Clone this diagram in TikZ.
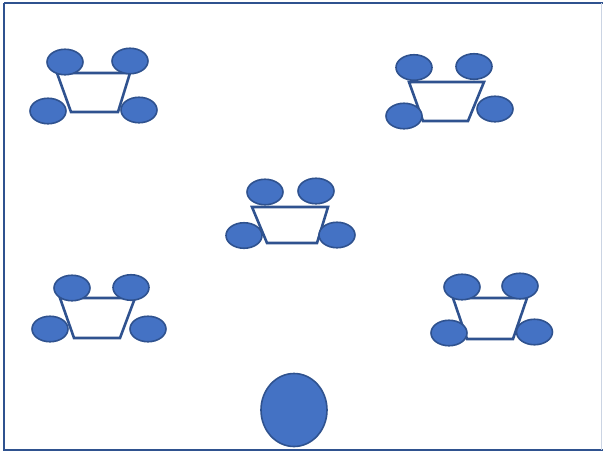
\documentclass[tikz,border=0pt]{standalone}
\usetikzlibrary{shapes.geometric}
\definecolor{seatblue}{HTML}{4472C4}
\definecolor{edgeblue}{HTML}{2F528F}

\begin{document}
\begin{tikzpicture}[x=1pt,y=-1pt,
  seat/.style={ellipse,draw=edgeblue,fill=seatblue,line width=1.6pt,
    minimum width=36pt,minimum height=25.5pt,inner sep=0pt},
  desk/.style={draw=edgeblue,line width=2.6pt}]
  \useasboundingbox (0,0) rectangle (603,453);
  \draw[edgeblue,line width=2.4pt] (4,3) -- (603,3);
  \draw[edgeblue,line width=2.4pt] (4,3) -- (4,450) -- (603,450);
  \draw[edgeblue!25,line width=1pt] (601,3) -- (601,450);
  % top left
  \draw[desk] (57,73) -- (130,73) -- (118,112) -- (71,112) -- cycle;
  \node[seat] (ltl) at (65,62) {};
  \node[seat] (ltr) at (130,61) {};
  \node[seat] (lbl) at (48,111) {};
  \node[seat] (lbr) at (139,110) {};
  % top right
  \draw[desk] (409,82) -- (484,82) -- (468,121) -- (423,121) -- cycle;
  \node[seat] (rtl) at (414,67.5) {};
  \node[seat] (rtr) at (474,66.5) {};
  \node[seat] (rbl) at (404,116) {};
  \node[seat] (rbr) at (495,109) {};
  % centre
  \draw[desk] (252,207) -- (328,207) -- (317,243) -- (267,243) -- cycle;
  \node[seat] (ctl) at (265,192) {};
  \node[seat] (ctr) at (316,191) {};
  \node[seat] (cbl) at (244,235.5) {};
  \node[seat] (cbr) at (337,235) {};
  % bottom left
  \draw[desk] (60,298) -- (135,298) -- (120,338) -- (74,338) -- cycle;
  \node[seat] (dtl) at (72,288) {};
  \node[seat] (dtr) at (131,287.5) {};
  \node[seat] (dbl) at (50,329) {};
  \node[seat] (dbr) at (148,329) {};
  % bottom right
  \draw[desk] (453,298) -- (527,298) -- (513,339) -- (467,339) -- cycle;
  \node[seat] (etl) at (462,287) {};
  \node[seat] (etr) at (520,286) {};
  \node[seat] (ebl) at (449,333) {};
  \node[seat] (ebr) at (534.5,332) {};
  \node[seat,minimum width=66pt,minimum height=73pt] (front) at (294,410) {};
\end{tikzpicture}
\end{document}
